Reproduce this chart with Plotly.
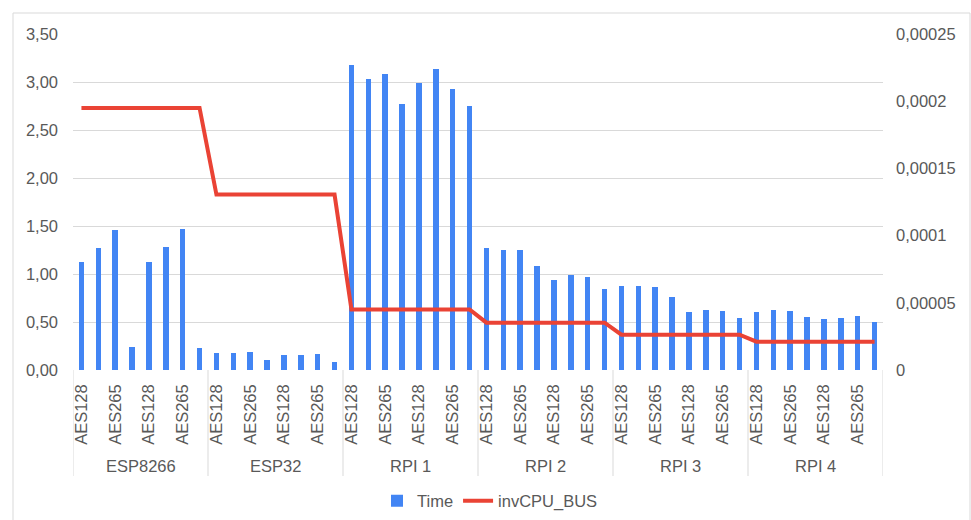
import plotly.graph_objects as go

# ---- data ----
groups = ["ESP8266", "ESP32", "RPI 1", "RPI 2", "RPI 3", "RPI 4"]
shown_labels = ["AES128", "AES265", "AES128", "AES265"]  # labels visible at every other category
time_values = [
    1.12, 1.27, 1.46, 0.24, 1.13, 1.28, 1.47, 0.23,   # ESP8266
    0.18, 0.18, 0.19, 0.10, 0.16, 0.16, 0.17, 0.08,   # ESP32
    3.18, 3.03, 3.08, 2.77, 2.99, 3.14, 2.93, 2.75,   # RPI 1
    1.27, 1.25, 1.25, 1.08, 0.94, 0.99, 0.97, 0.84,   # RPI 2
    0.87, 0.88, 0.86, 0.76, 0.60, 0.62, 0.61, 0.54,   # RPI 3
    0.60, 0.62, 0.61, 0.55, 0.53, 0.54, 0.56, 0.50,   # RPI 4
]
inv_cpu_bus = [
    0.000195, 0.000195, 0.000195, 0.000195, 0.000195, 0.000195, 0.000195, 0.000195,
    0.0001305, 0.0001305, 0.0001305, 0.0001305, 0.0001305, 0.0001305, 0.0001305, 0.0001305,
    0.0000451, 0.0000451, 0.0000451, 0.0000451, 0.0000451, 0.0000451, 0.0000451, 0.0000451,
    0.0000352, 0.0000352, 0.0000352, 0.0000352, 0.0000352, 0.0000352, 0.0000352, 0.0000352,
    0.0000263, 0.0000263, 0.0000263, 0.0000263, 0.0000263, 0.0000263, 0.0000263, 0.0000263,
    0.0000211, 0.0000211, 0.0000211, 0.0000211, 0.0000211, 0.0000211, 0.0000211, 0.0000211,
]
left_ticks = [0, 0.5, 1.0, 1.5, 2.0, 2.5, 3.0, 3.5]
right_tickvals = [0, 0.00005, 0.0001, 0.00015, 0.0002, 0.00025]
right_ticktext = ["0", "0,00005", "0,0001", "0,00015", "0,0002", "0,00025"]

per_group = len(time_values) // len(groups)
x = list(range(len(time_values)))
tickvals = [i for i in x if i % 2 == 0]
ticktext = [shown_labels[(i % per_group) // 2] for i in tickvals]

BLUE = "#4285F4"
RED = "#EA4335"
GRID = "#D9D9D9"
TXT = "#595959"
FONT = "Liberation Sans, Arial, sans-serif"

fig = go.Figure()
fig.add_trace(go.Bar(x=x, y=time_values, name="Time", marker_color=BLUE,
                     marker_line_width=0, width=0.33, yaxis="y"))
fig.add_trace(go.Scatter(x=x, y=inv_cpu_bus, name="invCPU_BUS", mode="lines",
                         line=dict(color=RED, width=4), yaxis="y2"))

# plot-area geometry in pixels (for converting paper coords)
L, R, T, B = 73, 883, 34, 370
W, H = R - L, B - T

def px_x(p):
    return (p - L) / W

def px_y(p):
    return (B - p) / H

shapes = []
for g in range(len(groups) + 1):
    xv = -0.5 + g * per_group
    shapes.append(dict(type="line", xref="x", yref="paper", x0=xv, x1=xv,
                       y0=0, y1=px_y(476), line=dict(color=GRID, width=1)))
# outer chart border
shapes.append(dict(type="rect", xref="paper", yref="paper",
                   x0=px_x(13), x1=px_x(970), y0=px_y(13), y1=px_y(540),
                   line=dict(color=GRID, width=1), fillcolor="rgba(0,0,0,0)", layer="below"))

annotations = []
for g, name in enumerate(groups):
    annotations.append(dict(x=(per_group - 1) / 2 + g * per_group, y=px_y(466),
                            xref="x", yref="paper", text=name, showarrow=False,
                            font=dict(size=16.5, color=TXT, family=FONT),
                            xanchor="center", yanchor="middle"))

fig.update_layout(
    width=971, height=520,
    margin=dict(l=L, r=971 - R, t=T, b=520 - B, autoexpand=False),
    paper_bgcolor="white", plot_bgcolor="white",
    font=dict(family=FONT, size=16.5, color=TXT),
    separators=", ",
    bargap=0,
    showlegend=True,
    legend=dict(orientation="h", x=px_x(490), y=px_y(501), xanchor="center",
                yanchor="middle", font=dict(size=16.5, color=TXT), itemwidth=30,
                bgcolor="rgba(0,0,0,0)"),
    xaxis=dict(range=[-0.5, len(x) - 0.5], tickmode="array", tickvals=tickvals,
               ticktext=ticktext, tickangle=-90, showgrid=False, zeroline=False,
               showline=False, ticks="", ticklabelstandoff=10,
               tickfont=dict(size=16.5, color=TXT, family=FONT)),
    yaxis=dict(range=[0, 3.5], tickmode="array", tickvals=left_ticks, tickformat=".2f",
               showgrid=True, gridcolor=GRID, gridwidth=1, zeroline=False,
               showline=False, ticks="", ticklabelstandoff=14,
               tickfont=dict(size=16.5, color=TXT, family=FONT)),
    yaxis2=dict(range=[0, 0.00025], overlaying="y", side="right", tickmode="array",
                tickvals=right_tickvals, ticktext=right_ticktext, showgrid=False,
                zeroline=False, showline=False, ticks="", ticklabelstandoff=12,
                tickfont=dict(size=16.5, color=TXT, family=FONT)),
    shapes=shapes,
    annotations=annotations,
)

fig.write_html("out.html")
